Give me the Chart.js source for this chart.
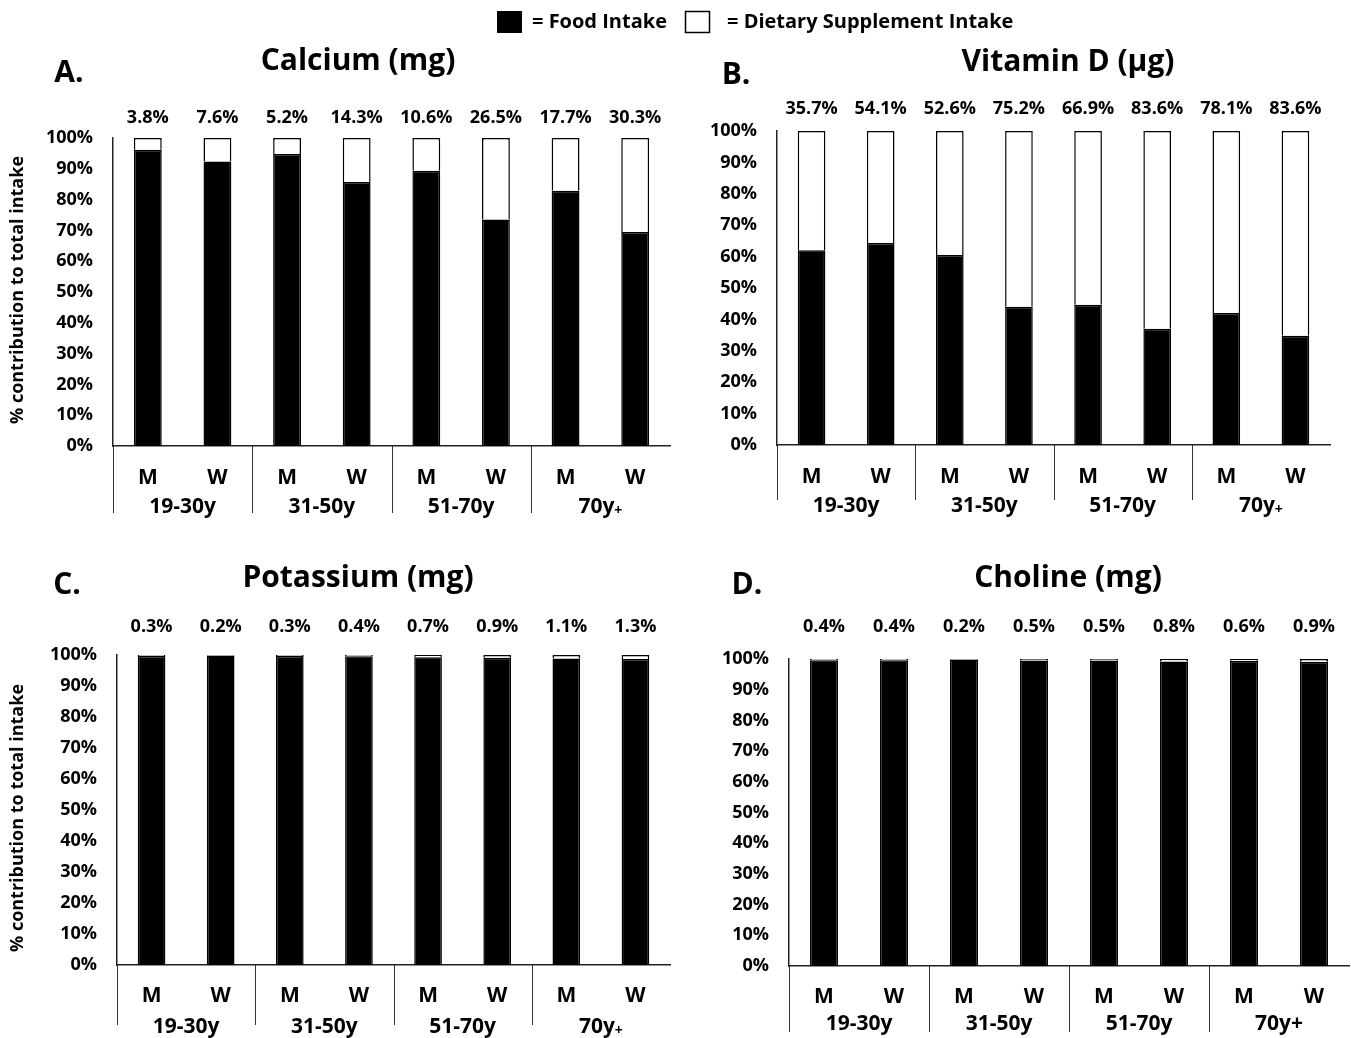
<!DOCTYPE html>
<html>
<head>
<meta charset="utf-8">
<script src="https://cdn.jsdelivr.net/npm/chart.js@4.4.1/dist/chart.umd.min.js"></script>
<style>
  html, body { margin: 0; padding: 0; background: #fff; }
  #wrap { position: relative; width: 1351px; height: 1038px; overflow: hidden; }
  #wrap canvas { position: absolute; left: 0; top: 0; }
</style>
</head>
<body>
<div id="wrap">
  <canvas id="chartA" width="1351" height="1038"></canvas>
  <canvas id="chartB" width="1351" height="1038"></canvas>
  <canvas id="chartC" width="1351" height="1038"></canvas>
  <canvas id="chartD" width="1351" height="1038"></canvas>
</div>
<script>
// ===== DATA =====
const ageGroups = ['19-30y', '31-50y', '51-70y', '70y+'];
const sexLabels = ['M', 'W', 'M', 'W', 'M', 'W', 'M', 'W'];

// food share (black part), supplement share from the labels
const calciumFood = [96.2, 92.4, 94.8, 85.7, 89.4, 73.5, 82.9, 69.5];
const calciumSupp = [3.8, 7.6, 5.2, 14.3, 10.6, 26.5, 17.7, 30.3];

const vitaminDFood = [62.0, 64.3, 60.5, 44.0, 44.7, 37.0, 42.0, 34.8];
const vitaminDSupp = [35.7, 54.1, 52.6, 75.2, 66.9, 83.6, 78.1, 83.6];

const potassiumFood = [99.7, 99.8, 99.7, 99.6, 99.3, 99.1, 98.9, 98.7];
const potassiumSupp = [0.3, 0.2, 0.3, 0.4, 0.7, 0.9, 1.1, 1.3];

const cholineFood = [99.6, 99.6, 99.8, 99.5, 99.5, 99.2, 99.4, 99.1];
const cholineSupp = [0.4, 0.4, 0.2, 0.5, 0.5, 0.8, 0.6, 0.9];

const yTicks = [0, 10, 20, 30, 40, 50, 60, 70, 80, 90, 100];

Chart.defaults.font.family = "'Open Sans', 'DejaVu Sans', sans-serif";
Chart.defaults.color = '#000';

const FONT = "'Open Sans', 'DejaVu Sans', sans-serif";
const Y_WIDTH = 70;

function drawText(ctx, text, x, y, size, align) {
  ctx.font = 'bold ' + size + 'px ' + FONT;
  ctx.textAlign = align || 'center';
  ctx.textBaseline = 'middle';
  ctx.fillStyle = '#000';
  ctx.fillText(text, x, y);
}

// extra annotations: labels above bars, M/W, age groups, separators, titles
const panelDecor = {
  id: 'panelDecor',
  afterDraw(chart, args, o) {
    const ctx = chart.ctx;
    const xs = chart.scales.x;
    const area = chart.chartArea;
    ctx.save();

    // supplement % above bars
    o.supp.forEach((v, i) => {
      drawText(ctx, v.toFixed(1) + '%', xs.getPixelForValue(i), o.pctY, 18);
    });

    // M / W
    sexLabels.forEach((s, i) => {
      drawText(ctx, s, xs.getPixelForValue(i), o.mwY, 21);
    });

    // group separators
    ctx.strokeStyle = '#333';
    ctx.lineWidth = 1;
    const step = (area.right - area.left) / sexLabels.length;
    [0, 2, 4, 6].forEach(k => {
      const x = Math.round(area.left + k * step) + 0.5;
      ctx.beginPath();
      ctx.moveTo(x, area.bottom);
      ctx.lineTo(x, o.sepEnd);
      ctx.stroke();
    });

    // age group labels
    ageGroups.forEach((g, gi) => {
      const cx = (xs.getPixelForValue(gi * 2) + xs.getPixelForValue(gi * 2 + 1)) / 2;
      if (g === '70y+' && o.smallPlus) {
        ctx.font = 'bold 21px ' + FONT;
        const w1 = ctx.measureText('70y').width;
        ctx.font = 'bold 14px ' + FONT;
        const w2 = ctx.measureText('+').width;
        const x0 = cx - (w1 + w2) / 2;
        drawText(ctx, '70y', x0, o.grpY, 21, 'left');
        drawText(ctx, '+', x0 + w1, o.grpY + 4, 14, 'left');
      } else {
        drawText(ctx, g, cx, o.grpY, 21);
      }
    });

    // title and panel letter
    drawText(ctx, o.title, o.titleX, o.titleY, 30);
    drawText(ctx, o.letter, o.letterX, o.letterY, 30);

    // y axis title
    if (o.yTitle) {
      ctx.translate(o.yTitleX, o.yTitleY);
      ctx.rotate(-Math.PI / 2);
      drawText(ctx, '% contribution to total intake', 0, 0, 18);
      ctx.setTransform(1, 0, 0, 1, 0, 0);
    }

    // legend
    if (o.legend) {
      ctx.fillStyle = '#000';
      ctx.fillRect(497, 11, 25, 22);
      drawText(ctx, '= Food Intake', 532, 22, 20, 'left');
      ctx.strokeStyle = '#000';
      ctx.lineWidth = 1.5;
      ctx.strokeRect(685.5, 11.5, 24, 21);
      drawText(ctx, '= Dietary Supplement Intake', 727, 22, 20, 'left');
    }
    ctx.restore();
  }
};

function makePanel(id, food, supp, area, decor) {
  const rest = food.map(v => +(100 - v).toFixed(2));
  new Chart(document.getElementById(id).getContext('2d'), {
    type: 'bar',
    data: {
      labels: sexLabels,
      datasets: [
        {
          label: 'Food Intake',
          data: food,
          backgroundColor: '#000',
          borderColor: '#000',
          borderWidth: 1.5,
          clip: false
        },
        {
          label: 'Dietary Supplement Intake',
          data: rest,
          backgroundColor: '#fff',
          borderColor: '#000',
          borderWidth: 1.5,
          clip: false
        }
      ]
    },
    options: {
      responsive: false,
      animation: false,
      events: [],
      layout: {
        padding: {
          left: area.l - Y_WIDTH,
          top: area.t,
          right: 1351 - area.r,
          bottom: 1038 - area.b
        }
      },
      datasets: { bar: { categoryPercentage: 1, barPercentage: 0.4 } },
      scales: {
        x: {
          stacked: true,
          grid: { display: false, drawTicks: false },
          ticks: { display: false },
          border: { display: true, color: '#222', width: 1.5 },
          afterFit: s => { s.height = 0; }
        },
        y: {
          stacked: true,
          min: 0,
          max: 100,
          grid: { display: false, drawTicks: false },
          border: { display: true, color: '#222', width: 1.5 },
          afterBuildTicks: s => { s.ticks = yTicks.map(v => ({ value: v })); },
          ticks: {
            padding: 20,
            font: { size: 18, weight: 'bold' },
            color: '#000',
            callback: v => v + '%'
          },
          afterFit: s => { s.width = Y_WIDTH; }
        }
      },
      plugins: {
        legend: { display: false },
        tooltip: { enabled: false },
        panelDecor: Object.assign({ supp: supp }, decor)
      }
    },
    plugins: [panelDecor]
  });
}

// ===== PANELS =====
makePanel('chartA', calciumFood, calciumSupp,
  { l: 113, t: 138, r: 670, b: 446 },
  { pctY: 118, mwY: 478, grpY: 507, sepEnd: 513, smallPlus: true,
    title: 'Calcium (mg)', titleX: 358, titleY: 61,
    letter: 'A.', letterX: 69, letterY: 73,
    yTitle: true, yTitleX: 18, yTitleY: 290, legend: true });

makePanel('chartB', vitaminDFood, vitaminDSupp,
  { l: 777, t: 131, r: 1330, b: 445 },
  { pctY: 109, mwY: 477, grpY: 506, sepEnd: 500, smallPlus: true,
    title: 'Vitamin D (\u00b5g)', titleX: 1068, titleY: 62,
    letter: 'B.', letterX: 736, letterY: 75 });

makePanel('chartC', potassiumFood, potassiumSupp,
  { l: 117, t: 655, r: 670, b: 965 },
  { pctY: 627, mwY: 996, grpY: 1027, sepEnd: 1025, smallPlus: true,
    title: 'Potassium (mg)', titleX: 358, titleY: 578,
    letter: 'C.', letterX: 67, letterY: 585,
    yTitle: true, yTitleX: 18, yTitleY: 818 });

makePanel('chartD', cholineFood, cholineSupp,
  { l: 789, t: 659, r: 1349, b: 966 },
  { pctY: 627, mwY: 997, grpY: 1024, sepEnd: 1032, smallPlus: false,
    title: 'Choline (mg)', titleX: 1068, titleY: 578,
    letter: 'D.', letterX: 747, letterY: 585 });
</script>
</body>
</html>
